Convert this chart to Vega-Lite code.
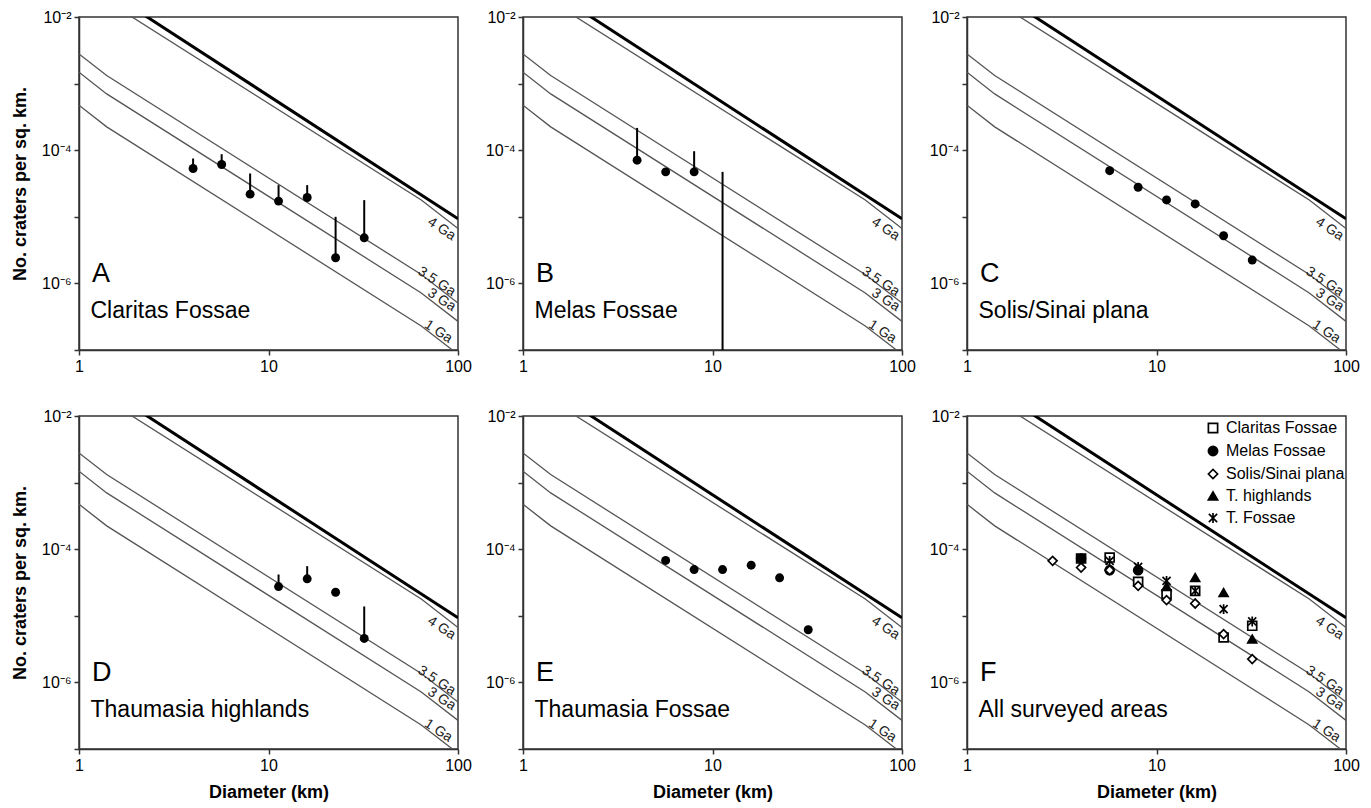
{
  "$schema": "https://vega.github.io/schema/vega-lite/v6.json",
  "padding": {"left": 10, "top": 8, "right": 5, "bottom": 4},
  "datasets": {
    "iso": [
      {"age": "1 Ga", "D": 1, "N": 4.73e-4}, {"age": "1 Ga", "D": 1.4, "N": 2.24e-4}, {"age": "1 Ga", "D": 64, "N": 2.30e-7}, {"age": "1 Ga", "D": 100, "N": 8.61e-8},
      {"age": "3 Ga", "D": 1, "N": 1.48e-3}, {"age": "3 Ga", "D": 1.4, "N": 7.0e-4}, {"age": "3 Ga", "D": 64, "N": 7.19e-7}, {"age": "3 Ga", "D": 100, "N": 2.69e-7},
      {"age": "3.5 Ga", "D": 1, "N": 2.79e-3}, {"age": "3.5 Ga", "D": 1.4, "N": 1.32e-3}, {"age": "3.5 Ga", "D": 64, "N": 1.36e-6}, {"age": "3.5 Ga", "D": 100, "N": 5.07e-7},
      {"age": "4 Ga", "D": 1, "N": 3.67e-2}, {"age": "4 Ga", "D": 1.4, "N": 1.74e-2}, {"age": "4 Ga", "D": 64, "N": 1.79e-5}, {"age": "4 Ga", "D": 100, "N": 6.68e-6}
    ],
    "sat": [{"D": 1, "N": 0.0462}, {"D": 100, "N": 9.33e-6}],
    "isolab": [
      {"label": "4 Ga", "D": 81.9, "N": 6.56e-6},
      {"label": "3.5 Ga", "D": 77.2, "N": 1.06e-6},
      {"label": "3 Ga", "D": 82.0, "N": 5.64e-7},
      {"label": "1 Ga", "D": 78.7, "N": 1.88e-7}
    ],
    "ann": [
      {"panel": "A", "letter": "A", "name": "Claritas Fossae"},
      {"panel": "B", "letter": "B", "name": "Melas Fossae"},
      {"panel": "C", "letter": "C", "name": "Solis/Sinai plana"},
      {"panel": "D", "letter": "D", "name": "Thaumasia highlands"},
      {"panel": "E", "letter": "E", "name": "Thaumasia Fossae"},
      {"panel": "F", "letter": "F", "name": "All surveyed areas"}
    ],
    "pts": [
      {"panel": "A", "D": 4, "N": 5.31e-5}, {"panel": "A", "D": 5.66, "N": 6.1e-5}, {"panel": "A", "D": 8, "N": 2.19e-5}, {"panel": "A", "D": 11.3, "N": 1.72e-5}, {"panel": "A", "D": 16, "N": 1.95e-5}, {"panel": "A", "D": 22.6, "N": 2.43e-6}, {"panel": "A", "D": 32, "N": 4.84e-6},
      {"panel": "B", "D": 4, "N": 7.08e-5}, {"panel": "B", "D": 5.66, "N": 4.73e-5}, {"panel": "B", "D": 8, "N": 4.73e-5},
      {"panel": "C", "D": 5.66, "N": 4.93e-5}, {"panel": "C", "D": 8, "N": 2.78e-5}, {"panel": "C", "D": 11.3, "N": 1.79e-5}, {"panel": "C", "D": 16, "N": 1.56e-5}, {"panel": "C", "D": 22.6, "N": 5.2e-6}, {"panel": "C", "D": 32, "N": 2.24e-6},
      {"panel": "D", "D": 11.3, "N": 2.75e-5}, {"panel": "D", "D": 16, "N": 3.59e-5}, {"panel": "D", "D": 22.6, "N": 2.26e-5}, {"panel": "D", "D": 32, "N": 4.57e-6},
      {"panel": "E", "D": 5.66, "N": 6.78e-5}, {"panel": "E", "D": 8, "N": 4.95e-5}, {"panel": "E", "D": 11.3, "N": 4.95e-5}, {"panel": "E", "D": 16, "N": 5.75e-5}, {"panel": "E", "D": 22.6, "N": 3.72e-5}, {"panel": "E", "D": 32, "N": 6.17e-6}
    ],
    "err": [
      {"panel": "A", "D": 4, "lo": 5.31e-5, "hi": 7.5e-5}, {"panel": "A", "D": 5.66, "lo": 6.1e-5, "hi": 8.71e-5}, {"panel": "A", "D": 8, "lo": 2.19e-5, "hi": 4.47e-5}, {"panel": "A", "D": 11.3, "lo": 1.72e-5, "hi": 2.99e-5}, {"panel": "A", "D": 16, "lo": 1.95e-5, "hi": 2.99e-5}, {"panel": "A", "D": 22.6, "lo": 2.43e-6, "hi": 1.0e-5}, {"panel": "A", "D": 32, "lo": 4.84e-6, "hi": 1.78e-5},
      {"panel": "B", "D": 4, "lo": 7.08e-5, "hi": 2.16e-4}, {"panel": "B", "D": 8, "lo": 4.73e-5, "hi": 9.66e-5}, {"panel": "B", "D": 11.3, "lo": 1e-7, "hi": 4.73e-5},
      {"panel": "D", "D": 11.3, "lo": 2.75e-5, "hi": 4.17e-5}, {"panel": "D", "D": 16, "lo": 3.59e-5, "hi": 5.56e-5}, {"panel": "D", "D": 32, "lo": 4.57e-6, "hi": 1.38e-5}
    ],
    "fpts": [
      {"area": "Claritas Fossae", "D": 4, "N": 7.24e-5}, {"area": "Claritas Fossae", "D": 5.66, "N": 7.5e-5}, {"area": "Claritas Fossae", "D": 8, "N": 3.24e-5}, {"area": "Claritas Fossae", "D": 11.3, "N": 2.11e-5}, {"area": "Claritas Fossae", "D": 16, "N": 2.37e-5}, {"area": "Claritas Fossae", "D": 22.6, "N": 4.73e-6}, {"area": "Claritas Fossae", "D": 32, "N": 7.08e-6},
      {"area": "Melas Fossae", "D": 4, "N": 7.24e-5}, {"area": "Melas Fossae", "D": 5.66, "N": 4.84e-5}, {"area": "Melas Fossae", "D": 8, "N": 4.84e-5},
      {"area": "Solis/Sinai plana", "D": 2.83, "N": 6.68e-5}, {"area": "Solis/Sinai plana", "D": 4, "N": 5.31e-5}, {"area": "Solis/Sinai plana", "D": 5.66, "N": 4.84e-5}, {"area": "Solis/Sinai plana", "D": 8, "N": 2.82e-5}, {"area": "Solis/Sinai plana", "D": 11.3, "N": 1.72e-5}, {"area": "Solis/Sinai plana", "D": 16, "N": 1.53e-5}, {"area": "Solis/Sinai plana", "D": 22.6, "N": 5.31e-6}, {"area": "Solis/Sinai plana", "D": 32, "N": 2.24e-6},
      {"area": "T. highlands", "D": 11.3, "N": 2.75e-5}, {"area": "T. highlands", "D": 16, "N": 3.76e-5}, {"area": "T. highlands", "D": 22.6, "N": 2.24e-5}, {"area": "T. highlands", "D": 32, "N": 4.47e-6},
      {"area": "T. Fossae", "D": 5.66, "N": 6.68e-5}, {"area": "T. Fossae", "D": 8, "N": 5.43e-5}, {"area": "T. Fossae", "D": 11.3, "N": 3.35e-5}, {"area": "T. Fossae", "D": 16, "N": 2.37e-5}, {"area": "T. Fossae", "D": 22.6, "N": 1.26e-5}, {"area": "T. Fossae", "D": 32, "N": 8.22e-6}
    ]
  },
  "columns": 3,
  "spacing": {"row": 66, "column": 65},
  "bounds": "flush",
  "concat": [
    {
      "width": 379, "height": 333,
      "layer": [
        {"data": {"name": "iso"}, "mark": {"type": "line", "clip": true, "color": "#555", "strokeWidth": 1.3},
         "encoding": {
           "x": {"field": "D", "type": "quantitative", "scale": {"type": "log", "domain": [1, 100], "nice": false}, "axis": {"values": [1, 10, 100], "format": "d", "labelFlush": false, "title": null}},
           "y": {"field": "N", "type": "quantitative", "scale": {"type": "log", "domain": [1e-7, 1e-2], "nice": false}, "axis": {"values": [1e-7, 1e-6, 1e-5, 1e-4, 1e-3, 1e-2], "labelExpr": "round(log(datum.value)/LN10) == -2 ? '10⁻²' : round(log(datum.value)/LN10) == -4 ? '10⁻⁴' : round(log(datum.value)/LN10) == -6 ? '10⁻⁶' : ''", "title": "No. craters per sq. km.", "titlePadding": 12}},
           "detail": {"field": "age"}}},
        {"data": {"name": "sat"}, "mark": {"type": "line", "clip": true, "color": "black", "strokeWidth": 3}, "encoding": {"x": {"field": "D", "type": "quantitative"}, "y": {"field": "N", "type": "quantitative"}}},
        {"data": {"name": "isolab"}, "mark": {"type": "text", "angle": 33, "fontSize": 14, "color": "#222"}, "encoding": {"x": {"field": "D", "type": "quantitative"}, "y": {"field": "N", "type": "quantitative"}, "text": {"field": "label"}}},
        {"data": {"name": "err"}, "transform": [{"filter": "datum.panel == 'A'"}], "mark": {"type": "rule", "color": "black", "strokeWidth": 2}, "encoding": {"x": {"field": "D", "type": "quantitative"}, "y": {"field": "lo", "type": "quantitative"}, "y2": {"field": "hi"}}},
        {"data": {"name": "pts"}, "transform": [{"filter": "datum.panel == 'A'"}], "mark": {"type": "point", "shape": "circle", "filled": true, "color": "black", "opacity": 1, "size": 80}, "encoding": {"x": {"field": "D", "type": "quantitative"}, "y": {"field": "N", "type": "quantitative"}}},
        {"data": {"name": "ann"}, "transform": [{"filter": "datum.panel == 'A'"}], "mark": {"type": "text", "align": "left", "baseline": "alphabetic", "fontSize": 27, "color": "black"}, "encoding": {"x": {"datum": 1.17}, "y": {"datum": 1.06e-6}, "text": {"field": "letter"}}},
        {"data": {"name": "ann"}, "transform": [{"filter": "datum.panel == 'A'"}], "mark": {"type": "text", "align": "left", "baseline": "alphabetic", "fontSize": 23, "color": "black"}, "encoding": {"x": {"datum": 1.15}, "y": {"datum": 2.99e-7}, "text": {"field": "name"}}}
      ]
    },
    {
      "width": 379, "height": 333,
      "layer": [
        {"data": {"name": "iso"}, "mark": {"type": "line", "clip": true, "color": "#555", "strokeWidth": 1.3},
         "encoding": {
           "x": {"field": "D", "type": "quantitative", "scale": {"type": "log", "domain": [1, 100], "nice": false}, "axis": {"values": [1, 10, 100], "format": "d", "labelFlush": false, "title": null}},
           "y": {"field": "N", "type": "quantitative", "scale": {"type": "log", "domain": [1e-7, 1e-2], "nice": false}, "axis": {"values": [1e-7, 1e-6, 1e-5, 1e-4, 1e-3, 1e-2], "labelExpr": "round(log(datum.value)/LN10) == -2 ? '10⁻²' : round(log(datum.value)/LN10) == -4 ? '10⁻⁴' : round(log(datum.value)/LN10) == -6 ? '10⁻⁶' : ''", "title": null}},
           "detail": {"field": "age"}}},
        {"data": {"name": "sat"}, "mark": {"type": "line", "clip": true, "color": "black", "strokeWidth": 3}, "encoding": {"x": {"field": "D", "type": "quantitative"}, "y": {"field": "N", "type": "quantitative"}}},
        {"data": {"name": "isolab"}, "mark": {"type": "text", "angle": 33, "fontSize": 14, "color": "#222"}, "encoding": {"x": {"field": "D", "type": "quantitative"}, "y": {"field": "N", "type": "quantitative"}, "text": {"field": "label"}}},
        {"data": {"name": "err"}, "transform": [{"filter": "datum.panel == 'B'"}], "mark": {"type": "rule", "color": "black", "strokeWidth": 2}, "encoding": {"x": {"field": "D", "type": "quantitative"}, "y": {"field": "lo", "type": "quantitative"}, "y2": {"field": "hi"}}},
        {"data": {"name": "pts"}, "transform": [{"filter": "datum.panel == 'B'"}], "mark": {"type": "point", "shape": "circle", "filled": true, "color": "black", "opacity": 1, "size": 80}, "encoding": {"x": {"field": "D", "type": "quantitative"}, "y": {"field": "N", "type": "quantitative"}}},
        {"data": {"name": "ann"}, "transform": [{"filter": "datum.panel == 'B'"}], "mark": {"type": "text", "align": "left", "baseline": "alphabetic", "fontSize": 27, "color": "black"}, "encoding": {"x": {"datum": 1.17}, "y": {"datum": 1.06e-6}, "text": {"field": "letter"}}},
        {"data": {"name": "ann"}, "transform": [{"filter": "datum.panel == 'B'"}], "mark": {"type": "text", "align": "left", "baseline": "alphabetic", "fontSize": 23, "color": "black"}, "encoding": {"x": {"datum": 1.15}, "y": {"datum": 2.99e-7}, "text": {"field": "name"}}}
      ]
    },
    {
      "width": 379, "height": 333,
      "layer": [
        {"data": {"name": "iso"}, "mark": {"type": "line", "clip": true, "color": "#555", "strokeWidth": 1.3},
         "encoding": {
           "x": {"field": "D", "type": "quantitative", "scale": {"type": "log", "domain": [1, 100], "nice": false}, "axis": {"values": [1, 10, 100], "format": "d", "labelFlush": false, "title": null}},
           "y": {"field": "N", "type": "quantitative", "scale": {"type": "log", "domain": [1e-7, 1e-2], "nice": false}, "axis": {"values": [1e-7, 1e-6, 1e-5, 1e-4, 1e-3, 1e-2], "labelExpr": "round(log(datum.value)/LN10) == -2 ? '10⁻²' : round(log(datum.value)/LN10) == -4 ? '10⁻⁴' : round(log(datum.value)/LN10) == -6 ? '10⁻⁶' : ''", "title": null}},
           "detail": {"field": "age"}}},
        {"data": {"name": "sat"}, "mark": {"type": "line", "clip": true, "color": "black", "strokeWidth": 3}, "encoding": {"x": {"field": "D", "type": "quantitative"}, "y": {"field": "N", "type": "quantitative"}}},
        {"data": {"name": "isolab"}, "mark": {"type": "text", "angle": 33, "fontSize": 14, "color": "#222"}, "encoding": {"x": {"field": "D", "type": "quantitative"}, "y": {"field": "N", "type": "quantitative"}, "text": {"field": "label"}}},
        {"data": {"name": "pts"}, "transform": [{"filter": "datum.panel == 'C'"}], "mark": {"type": "point", "shape": "circle", "filled": true, "color": "black", "opacity": 1, "size": 80}, "encoding": {"x": {"field": "D", "type": "quantitative"}, "y": {"field": "N", "type": "quantitative"}}},
        {"data": {"name": "ann"}, "transform": [{"filter": "datum.panel == 'C'"}], "mark": {"type": "text", "align": "left", "baseline": "alphabetic", "fontSize": 27, "color": "black"}, "encoding": {"x": {"datum": 1.17}, "y": {"datum": 1.06e-6}, "text": {"field": "letter"}}},
        {"data": {"name": "ann"}, "transform": [{"filter": "datum.panel == 'C'"}], "mark": {"type": "text", "align": "left", "baseline": "alphabetic", "fontSize": 23, "color": "black"}, "encoding": {"x": {"datum": 1.15}, "y": {"datum": 2.99e-7}, "text": {"field": "name"}}}
      ]
    },
    {
      "width": 379, "height": 333,
      "layer": [
        {"data": {"name": "iso"}, "mark": {"type": "line", "clip": true, "color": "#555", "strokeWidth": 1.3},
         "encoding": {
           "x": {"field": "D", "type": "quantitative", "scale": {"type": "log", "domain": [1, 100], "nice": false}, "axis": {"values": [1, 10, 100], "format": "d", "labelFlush": false, "title": "Diameter (km)", "titlePadding": 10}},
           "y": {"field": "N", "type": "quantitative", "scale": {"type": "log", "domain": [1e-7, 1e-2], "nice": false}, "axis": {"values": [1e-7, 1e-6, 1e-5, 1e-4, 1e-3, 1e-2], "labelExpr": "round(log(datum.value)/LN10) == -2 ? '10⁻²' : round(log(datum.value)/LN10) == -4 ? '10⁻⁴' : round(log(datum.value)/LN10) == -6 ? '10⁻⁶' : ''", "title": "No. craters per sq. km.", "titlePadding": 12}},
           "detail": {"field": "age"}}},
        {"data": {"name": "sat"}, "mark": {"type": "line", "clip": true, "color": "black", "strokeWidth": 3}, "encoding": {"x": {"field": "D", "type": "quantitative"}, "y": {"field": "N", "type": "quantitative"}}},
        {"data": {"name": "isolab"}, "mark": {"type": "text", "angle": 33, "fontSize": 14, "color": "#222"}, "encoding": {"x": {"field": "D", "type": "quantitative"}, "y": {"field": "N", "type": "quantitative"}, "text": {"field": "label"}}},
        {"data": {"name": "err"}, "transform": [{"filter": "datum.panel == 'D'"}], "mark": {"type": "rule", "color": "black", "strokeWidth": 2}, "encoding": {"x": {"field": "D", "type": "quantitative"}, "y": {"field": "lo", "type": "quantitative"}, "y2": {"field": "hi"}}},
        {"data": {"name": "pts"}, "transform": [{"filter": "datum.panel == 'D'"}], "mark": {"type": "point", "shape": "circle", "filled": true, "color": "black", "opacity": 1, "size": 80}, "encoding": {"x": {"field": "D", "type": "quantitative"}, "y": {"field": "N", "type": "quantitative"}}},
        {"data": {"name": "ann"}, "transform": [{"filter": "datum.panel == 'D'"}], "mark": {"type": "text", "align": "left", "baseline": "alphabetic", "fontSize": 27, "color": "black"}, "encoding": {"x": {"datum": 1.17}, "y": {"datum": 1.06e-6}, "text": {"field": "letter"}}},
        {"data": {"name": "ann"}, "transform": [{"filter": "datum.panel == 'D'"}], "mark": {"type": "text", "align": "left", "baseline": "alphabetic", "fontSize": 23, "color": "black"}, "encoding": {"x": {"datum": 1.15}, "y": {"datum": 2.99e-7}, "text": {"field": "name"}}}
      ]
    },
    {
      "width": 379, "height": 333,
      "layer": [
        {"data": {"name": "iso"}, "mark": {"type": "line", "clip": true, "color": "#555", "strokeWidth": 1.3},
         "encoding": {
           "x": {"field": "D", "type": "quantitative", "scale": {"type": "log", "domain": [1, 100], "nice": false}, "axis": {"values": [1, 10, 100], "format": "d", "labelFlush": false, "title": "Diameter (km)", "titlePadding": 10}},
           "y": {"field": "N", "type": "quantitative", "scale": {"type": "log", "domain": [1e-7, 1e-2], "nice": false}, "axis": {"values": [1e-7, 1e-6, 1e-5, 1e-4, 1e-3, 1e-2], "labelExpr": "round(log(datum.value)/LN10) == -2 ? '10⁻²' : round(log(datum.value)/LN10) == -4 ? '10⁻⁴' : round(log(datum.value)/LN10) == -6 ? '10⁻⁶' : ''", "title": null}},
           "detail": {"field": "age"}}},
        {"data": {"name": "sat"}, "mark": {"type": "line", "clip": true, "color": "black", "strokeWidth": 3}, "encoding": {"x": {"field": "D", "type": "quantitative"}, "y": {"field": "N", "type": "quantitative"}}},
        {"data": {"name": "isolab"}, "mark": {"type": "text", "angle": 33, "fontSize": 14, "color": "#222"}, "encoding": {"x": {"field": "D", "type": "quantitative"}, "y": {"field": "N", "type": "quantitative"}, "text": {"field": "label"}}},
        {"data": {"name": "pts"}, "transform": [{"filter": "datum.panel == 'E'"}], "mark": {"type": "point", "shape": "circle", "filled": true, "color": "black", "opacity": 1, "size": 80}, "encoding": {"x": {"field": "D", "type": "quantitative"}, "y": {"field": "N", "type": "quantitative"}}},
        {"data": {"name": "ann"}, "transform": [{"filter": "datum.panel == 'E'"}], "mark": {"type": "text", "align": "left", "baseline": "alphabetic", "fontSize": 27, "color": "black"}, "encoding": {"x": {"datum": 1.17}, "y": {"datum": 1.06e-6}, "text": {"field": "letter"}}},
        {"data": {"name": "ann"}, "transform": [{"filter": "datum.panel == 'E'"}], "mark": {"type": "text", "align": "left", "baseline": "alphabetic", "fontSize": 23, "color": "black"}, "encoding": {"x": {"datum": 1.15}, "y": {"datum": 2.99e-7}, "text": {"field": "name"}}}
      ]
    },
    {
      "width": 379, "height": 333,
      "layer": [
        {"data": {"name": "iso"}, "mark": {"type": "line", "clip": true, "color": "#555", "strokeWidth": 1.3},
         "encoding": {
           "x": {"field": "D", "type": "quantitative", "scale": {"type": "log", "domain": [1, 100], "nice": false}, "axis": {"values": [1, 10, 100], "format": "d", "labelFlush": false, "title": "Diameter (km)", "titlePadding": 10}},
           "y": {"field": "N", "type": "quantitative", "scale": {"type": "log", "domain": [1e-7, 1e-2], "nice": false}, "axis": {"values": [1e-7, 1e-6, 1e-5, 1e-4, 1e-3, 1e-2], "labelExpr": "round(log(datum.value)/LN10) == -2 ? '10⁻²' : round(log(datum.value)/LN10) == -4 ? '10⁻⁴' : round(log(datum.value)/LN10) == -6 ? '10⁻⁶' : ''", "title": null}},
           "detail": {"field": "age"}}},
        {"data": {"name": "sat"}, "mark": {"type": "line", "clip": true, "color": "black", "strokeWidth": 3}, "encoding": {"x": {"field": "D", "type": "quantitative"}, "y": {"field": "N", "type": "quantitative"}}},
        {"data": {"name": "isolab"}, "mark": {"type": "text", "angle": 33, "fontSize": 14, "color": "#222"}, "encoding": {"x": {"field": "D", "type": "quantitative"}, "y": {"field": "N", "type": "quantitative"}, "text": {"field": "label"}}},
        {"data": {"name": "fpts"}, "mark": {"type": "point", "strokeWidth": 1.7, "opacity": 1, "fillOpacity": 1, "strokeOpacity": 1, "size": 80},
         "encoding": {
           "x": {"field": "D", "type": "quantitative"}, "y": {"field": "N", "type": "quantitative"},
           "shape": {"field": "area", "type": "nominal", "scale": {"domain": ["Claritas Fossae", "Melas Fossae", "Solis/Sinai plana", "T. highlands", "T. Fossae"], "range": ["square", "circle", "diamond", "triangle-up", "M-0.9,-0.9L0.9,0.9M-0.9,0.9L0.9,-0.9M0,-1.1L0,1.1"]},
             "legend": {"title": null, "orient": "none", "legendX": 1126, "legendY": 403, "padding": 0, "rowPadding": 5, "labelFontSize": 16, "labelFont": "Liberation Sans", "labelColor": "black", "labelOffset": 5, "symbolSize": 85, "symbolStrokeWidth": 1.7}},
           "fill": {"field": "area", "type": "nominal", "scale": {"domain": ["Claritas Fossae", "Melas Fossae", "Solis/Sinai plana", "T. highlands", "T. Fossae"], "range": ["white", "black", "white", "black", "black"]},
             "legend": {"title": null, "orient": "none", "legendX": 1126, "legendY": 403, "padding": 0, "rowPadding": 5, "labelFontSize": 16, "labelFont": "Liberation Sans", "labelColor": "black", "labelOffset": 5, "symbolSize": 85, "symbolStrokeWidth": 1.7}},
           "stroke": {"field": "area", "type": "nominal", "scale": {"domain": ["Claritas Fossae", "Melas Fossae", "Solis/Sinai plana", "T. highlands", "T. Fossae"], "range": ["black", "black", "black", "black", "black"]},
             "legend": {"title": null, "orient": "none", "legendX": 1126, "legendY": 403, "padding": 0, "rowPadding": 5, "labelFontSize": 16, "labelFont": "Liberation Sans", "labelColor": "black", "labelOffset": 5, "symbolSize": 85, "symbolStrokeWidth": 1.7}}
         }},
        {"data": {"name": "ann"}, "transform": [{"filter": "datum.panel == 'F'"}], "mark": {"type": "text", "align": "left", "baseline": "alphabetic", "fontSize": 27, "color": "black"}, "encoding": {"x": {"datum": 1.17}, "y": {"datum": 1.06e-6}, "text": {"field": "letter"}}},
        {"data": {"name": "ann"}, "transform": [{"filter": "datum.panel == 'F'"}], "mark": {"type": "text", "align": "left", "baseline": "alphabetic", "fontSize": 23, "color": "black"}, "encoding": {"x": {"datum": 1.15}, "y": {"datum": 2.99e-7}, "text": {"field": "name"}}}
      ]
    }
  ],
  "config": {
    "view": {"stroke": "#333", "strokeWidth": 1.5},
    "font": "Liberation Sans",
    "text": {"font": "Liberation Sans"},
    "axis": {"labelFont": "Liberation Sans", "labelFontSize": 16, "labelColor": "black", "titleFont": "Liberation Sans", "titleFontSize": 18, "titleFontWeight": "bold", "titleColor": "black", "domainColor": "#333", "domainWidth": 1.5, "tickColor": "#333", "tickWidth": 1.5, "tickSize": 5, "grid": false, "labelPadding": 3, "labelOverlap": false}
  }
}
